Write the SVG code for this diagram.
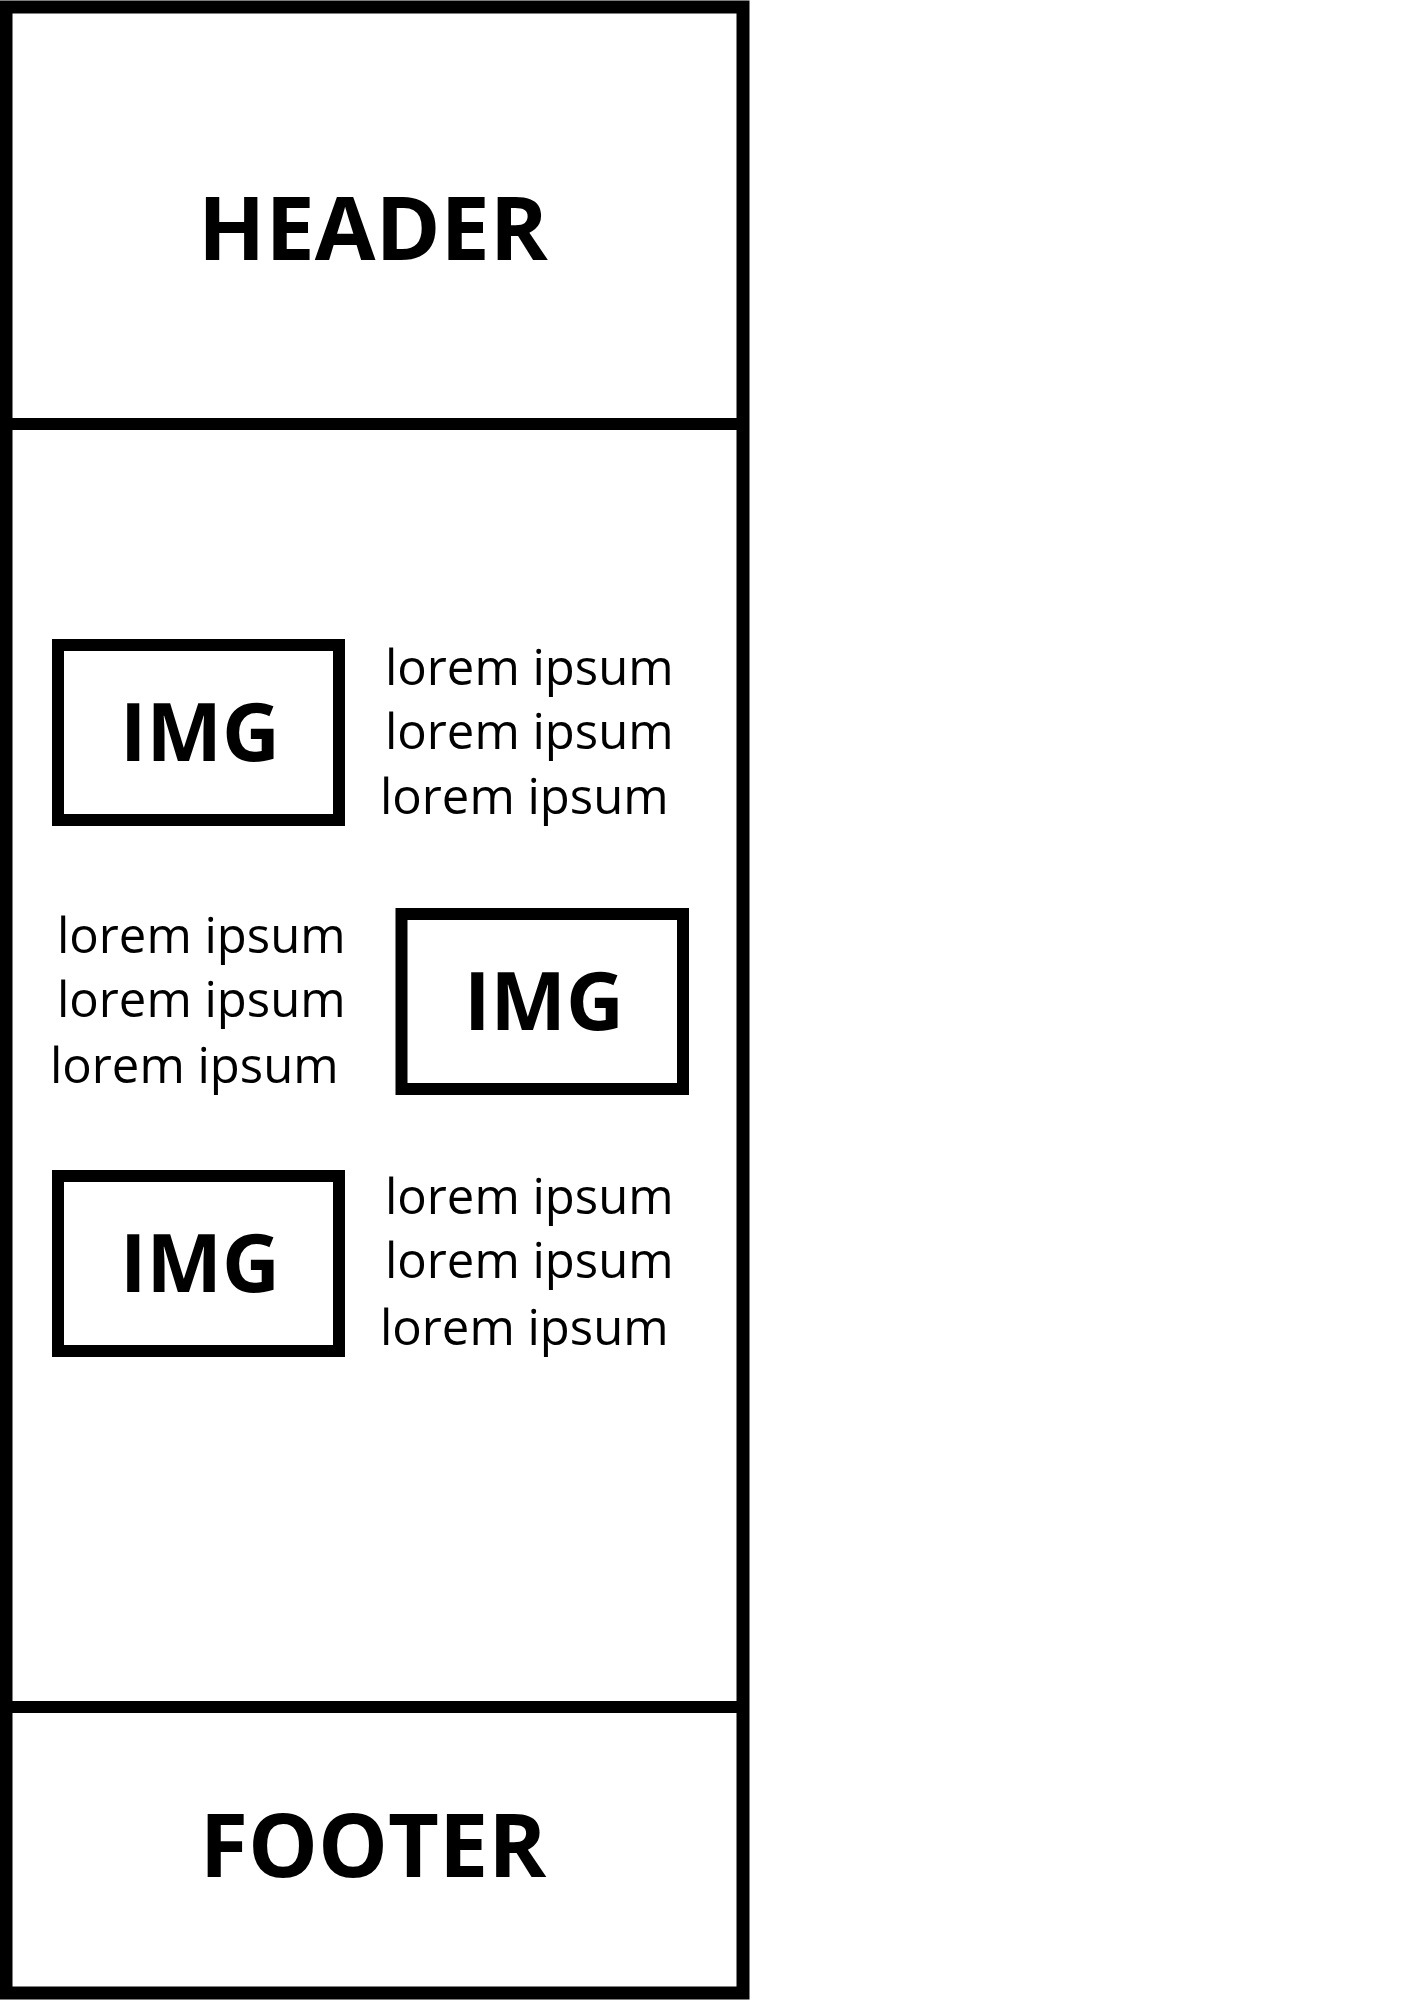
<svg xmlns="http://www.w3.org/2000/svg" width="1428" height="2000" viewBox="0 0 1428 2000">
<style>
.frame{fill:none;stroke:#000;stroke-width:12}
.box{fill:#fff;stroke:#000;stroke-width:12}
.title{font-family:"Open Sans","Liberation Sans",sans-serif;font-weight:700;font-size:88px;fill:#000;text-anchor:middle}
.img{font-family:"Open Sans","Liberation Sans",sans-serif;font-weight:700;font-size:80px;fill:#000;text-anchor:middle}
.txt{font-family:"Open Sans","Liberation Sans",sans-serif;font-size:49px;fill:#000}
</style>
<rect width="1428" height="2000" fill="#fff"/>
<g id="page">
<rect x="6" y="7" width="737" height="1986" class="frame" style="stroke-width:13"/>
</g>
<g id="header">
<line x1="0" y1="424" x2="749" y2="424" stroke="#000" stroke-width="12"/>
<text x="373" y="260" class="title">HEADER</text>
</g>
<g id="footer">
<line x1="0" y1="1707" x2="749" y2="1707" stroke="#000" stroke-width="12"/>
<text x="373" y="1877" class="title">FOOTER</text>
</g>
<g id="img1">
<rect x="58" y="645" width="281" height="175" class="box"/>
<text x="200" y="761" class="img">IMG</text>
</g>
<g id="text1">
<text x="385" y="685" class="txt">lorem ipsum</text>
<text x="385" y="749" class="txt">lorem ipsum</text>
<text x="380" y="814" class="txt">lorem ipsum</text>
</g>
<g id="text2">
<text x="57" y="953" class="txt">lorem ipsum</text>
<text x="57" y="1017" class="txt">lorem ipsum</text>
<text x="50" y="1083" class="txt">lorem ipsum</text>
</g>
<g id="img2">
<rect x="401.5" y="914" width="281.5" height="175" class="box"/>
<text x="544" y="1030" class="img">IMG</text>
</g>
<g id="img3">
<rect x="58" y="1176" width="281" height="175" class="box"/>
<text x="200" y="1292" class="img">IMG</text>
</g>
<g id="text3">
<text x="385" y="1214" class="txt">lorem ipsum</text>
<text x="385" y="1278" class="txt">lorem ipsum</text>
<text x="380" y="1345" class="txt">lorem ipsum</text>
</g>
</svg>
